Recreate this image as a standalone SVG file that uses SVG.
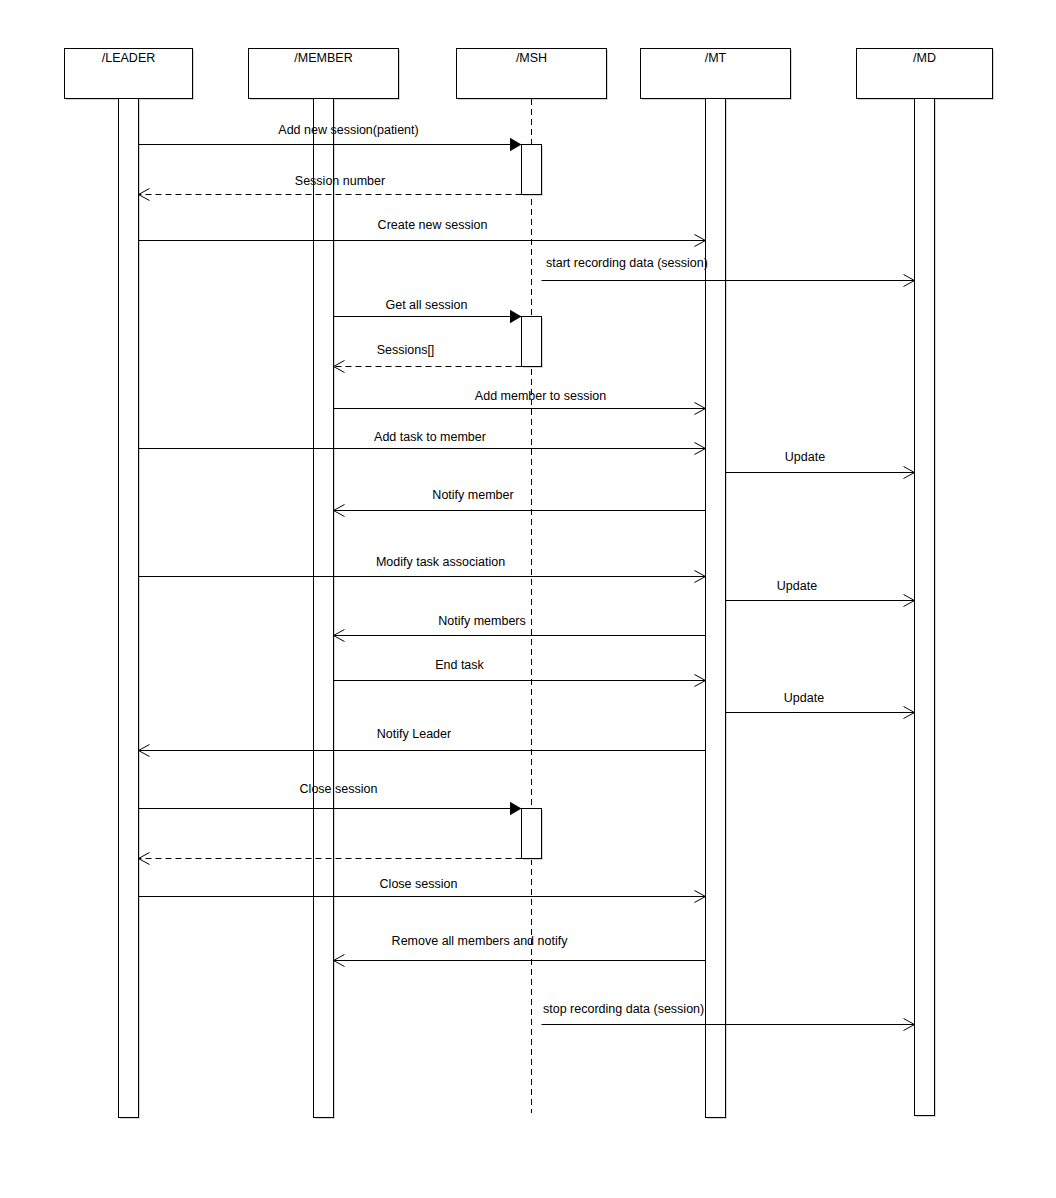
<svg xmlns="http://www.w3.org/2000/svg" width="1056" height="1198" viewBox="0 0 1056 1198">
  <style>
    .box { fill: #fff; stroke: #000; stroke-width: 1; }
    .shadow { fill: #d6d6d6; }
    .title { font-family: "Liberation Sans", Arial, sans-serif; font-size: 12.5px; fill: #000; text-anchor: middle; }
    .lbl { font-family: "Liberation Sans", Arial, sans-serif; font-size: 12.5px; fill: #000; text-anchor: middle; }
    .lbl.start { text-anchor: start; }
    .msg { stroke: #000; stroke-width: 1; fill: none; }
    .call { marker-end: url(#filled); }
    .async { marker-end: url(#open); }
    .ret { stroke-dasharray: 6 4; marker-end: url(#open); }
    .dashline { stroke: #000; stroke-width: 1; stroke-dasharray: 6 4; fill: none; }
  </style>
  <defs>
    <marker id="open" markerUnits="userSpaceOnUse" markerWidth="14" markerHeight="16" refX="12" refY="7" orient="auto">
      <path d="M1,1 L12,7 L1,13" fill="none" stroke="#000" stroke-width="1"/>
    </marker>
    <marker id="filled" markerUnits="userSpaceOnUse" markerWidth="14" markerHeight="16" refX="12" refY="7" orient="auto">
      <path d="M0,0 L12,7 L0,14 Z" fill="#000" stroke="none"/>
    </marker>
  </defs>

  <rect width="1056" height="1198" fill="#fff"/>

  <!-- participants: header box plus lifeline -->
  <g id="leader">
    <rect class="shadow" x="66" y="50" width="128" height="50"/>
    <rect class="box" x="64.5" y="48.5" width="128" height="50"/>
    <text class="title" x="128.5" y="62">/LEADER</text>
    <rect class="shadow" x="120" y="100" width="20" height="1019"/>
    <rect class="box" x="118.5" y="98.5" width="20" height="1019"/>
  </g>
  <g id="member">
    <rect class="shadow" x="250" y="50" width="150" height="50"/>
    <rect class="box" x="248.5" y="48.5" width="150" height="50"/>
    <text class="title" x="323.5" y="62">/MEMBER</text>
    <rect class="shadow" x="315" y="100" width="20" height="1019"/>
    <rect class="box" x="313.5" y="98.5" width="20" height="1019"/>
  </g>
  <g id="msh">
    <rect class="shadow" x="458" y="50" width="150" height="50"/>
    <rect class="box" x="456.5" y="48.5" width="150" height="50"/>
    <text class="title" x="531.5" y="62">/MSH</text>
    <line class="dashline" x1="531.5" y1="99" x2="531.5" y2="1113"/>
    <rect class="shadow" x="523" y="146" width="20" height="50"/>
    <rect class="box" x="521.5" y="144.5" width="20" height="50"/>
    <rect class="shadow" x="523" y="318" width="20" height="50"/>
    <rect class="box" x="521.5" y="316.5" width="20" height="50"/>
    <rect class="shadow" x="523" y="810" width="20" height="50"/>
    <rect class="box" x="521.5" y="808.5" width="20" height="50"/>
  </g>
  <g id="mt">
    <rect class="shadow" x="642" y="50" width="150" height="50"/>
    <rect class="box" x="640.5" y="48.5" width="150" height="50"/>
    <text class="title" x="715.5" y="62">/MT</text>
    <rect class="shadow" x="707" y="100" width="20" height="1019"/>
    <rect class="box" x="705.5" y="98.5" width="20" height="1019"/>
  </g>
  <g id="md">
    <rect class="shadow" x="858" y="50" width="136" height="50"/>
    <rect class="box" x="856.5" y="48.5" width="136" height="50"/>
    <text class="title" x="924.5" y="62">/MD</text>
    <rect class="shadow" x="916" y="100" width="20" height="1017"/>
    <rect class="box" x="914.5" y="98.5" width="20" height="1017"/>
  </g>

  <!-- messages -->
  <g id="connectors">
    <line class="msg call" x1="138.5" y1="144.5" x2="521.5" y2="144.5"/>
    <text class="lbl" x="348.5" y="134">Add new session(patient)</text>

    <line class="msg ret" x1="521.5" y1="194.5" x2="138.5" y2="194.5"/>
    <text class="lbl" x="340" y="185">Session number</text>

    <line class="msg async" x1="138.5" y1="240.5" x2="705.5" y2="240.5"/>
    <text class="lbl" x="432.5" y="229">Create new session</text>

    <line class="msg async" x1="541.5" y1="280.5" x2="914.5" y2="280.5"/>
    <text class="lbl start" x="546" y="267">start recording data (session)</text>

    <line class="msg call" x1="333.5" y1="316.5" x2="521.5" y2="316.5"/>
    <text class="lbl" x="426.5" y="309">Get all session</text>

    <line class="msg ret" x1="521.5" y1="366.5" x2="333.5" y2="366.5"/>
    <text class="lbl" x="405.5" y="354">Sessions[]</text>

    <line class="msg async" x1="333.5" y1="408.5" x2="705.5" y2="408.5"/>
    <text class="lbl" x="540.5" y="400">Add member to session</text>

    <line class="msg async" x1="138.5" y1="448.5" x2="705.5" y2="448.5"/>
    <text class="lbl" x="430" y="441">Add task to member</text>

    <line class="msg async" x1="725.5" y1="472.5" x2="914.5" y2="472.5"/>
    <text class="lbl" x="805" y="461">Update</text>

    <line class="msg async" x1="705.5" y1="510.5" x2="333.5" y2="510.5"/>
    <text class="lbl" x="473" y="499">Notify member</text>

    <line class="msg async" x1="138.5" y1="576.5" x2="705.5" y2="576.5"/>
    <text class="lbl" x="440.5" y="566">Modify task association</text>

    <line class="msg async" x1="725.5" y1="600.5" x2="914.5" y2="600.5"/>
    <text class="lbl" x="797" y="590">Update</text>

    <line class="msg async" x1="705.5" y1="635.5" x2="333.5" y2="635.5"/>
    <text class="lbl" x="482" y="625">Notify members</text>

    <line class="msg async" x1="333.5" y1="680.5" x2="705.5" y2="680.5"/>
    <text class="lbl" x="459.5" y="669">End task</text>

    <line class="msg async" x1="725.5" y1="712.5" x2="914.5" y2="712.5"/>
    <text class="lbl" x="804" y="702">Update</text>

    <line class="msg async" x1="705.5" y1="750.5" x2="138.5" y2="750.5"/>
    <text class="lbl" x="414" y="738">Notify Leader</text>

    <line class="msg call" x1="138.5" y1="808.5" x2="521.5" y2="808.5"/>
    <text class="lbl" x="338.5" y="793">Close session</text>

    <line class="msg ret" x1="521.5" y1="858.5" x2="138.5" y2="858.5"/>

    <line class="msg async" x1="138.5" y1="896.5" x2="705.5" y2="896.5"/>
    <text class="lbl" x="418.5" y="888">Close session</text>

    <line class="msg async" x1="705.5" y1="960.5" x2="333.5" y2="960.5"/>
    <text class="lbl" x="479.5" y="945">Remove all members and notify</text>

    <line class="msg async" x1="541.5" y1="1024.5" x2="914.5" y2="1024.5"/>
    <text class="lbl start" x="543" y="1013">stop recording data (session)</text>
  </g>
</svg>
